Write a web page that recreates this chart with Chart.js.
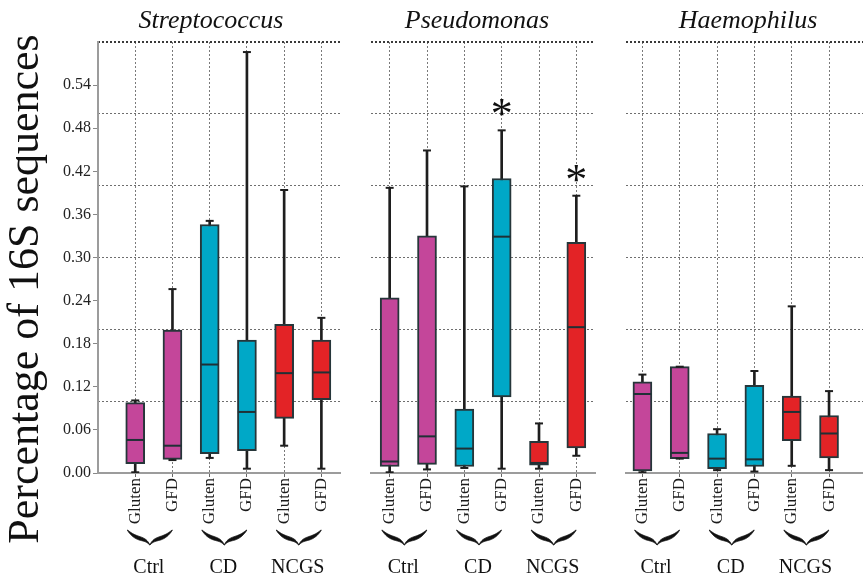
<!DOCTYPE html>
<html>
<head>
<meta charset="utf-8">
<script src="https://cdn.jsdelivr.net/npm/chart.js@4.4.0/dist/chart.umd.min.js"></script>
<style>
  html, body { margin: 0; padding: 0; background: #fff; }
  #wrap { position: relative; width: 863px; height: 579px; overflow: hidden; background: #fff; }
  #wrap canvas { position: absolute; top: 0; }
</style>
</head>
<body>
<div id="wrap">
  <canvas id="c1" width="345" height="579" style="left:0px"></canvas>
  <canvas id="c2" width="260" height="579" style="left:350px"></canvas>
  <canvas id="c3" width="253" height="579" style="left:610px"></canvas>
</div>
<script>
// Diet per box, grouped in pairs by cohort
const categories = ['Gluten', 'GFD', 'Gluten', 'GFD', 'Gluten', 'GFD'];
const groups = ['Ctrl', 'CD', 'NCGS'];
const yTicks = [0, 0.06, 0.12, 0.18, 0.24, 0.30, 0.36, 0.42, 0.48, 0.54];
const yGrid = [0.1, 0.2, 0.3, 0.4, 0.5, 0.6];

// Streptococcus: whisker min, Q1, median, Q3, whisker max
const streptoMin = [0.001, 0.018, 0.021, 0.006, 0.038, 0.006];
const streptoQ1  = [0.013, 0.019, 0.027, 0.031, 0.076, 0.102];
const streptoMed = [0.046, 0.038, 0.151, 0.085, 0.139, 0.140];
const streptoQ3  = [0.098, 0.199, 0.346, 0.185, 0.207, 0.185];
const streptoMax = [0.101, 0.256, 0.351, 0.586, 0.394, 0.216];

// Pseudomonas
const pseudoMin = [0.001, 0.005, 0.007, 0.006, 0.006, 0.024];
const pseudoQ1  = [0.009, 0.012, 0.009, 0.106, 0.011, 0.035];
const pseudoMed = [0.016, 0.051, 0.034, 0.329, 0.014, 0.203];
const pseudoQ3  = [0.244, 0.330, 0.089, 0.410, 0.044, 0.321];
const pseudoMax = [0.397, 0.449, 0.399, 0.477, 0.069, 0.386];
// significance marks (box index 1-based, height)
const pseudoStarAt = [4, 6];
const pseudoStarY  = [0.509, 0.417];

// Haemophilus
const haemoMin = [0.001, 0.020, 0.004, 0.002, 0.010, 0.004];
const haemoQ1  = [0.003, 0.020, 0.006, 0.009, 0.045, 0.021];
const haemoMed = [0.110, 0.028, 0.020, 0.019, 0.085, 0.055];
const haemoQ3  = [0.127, 0.148, 0.055, 0.122, 0.107, 0.080];
const haemoMax = [0.137, 0.148, 0.061, 0.142, 0.232, 0.114];

const MAGENTA = '#c4469a', CYAN = '#00a8c7', RED = '#e32326';
const boxColors = [MAGENTA, MAGENTA, CYAN, CYAN, RED, RED];
const EDGE = '#26363a', WHISKER = '#1e1e1e', MEDIAN = '#1f3035';
const SERIF = '"Liberation Serif", "Times New Roman", serif';

function boxDatasets(mins, q1s, meds, q3s, maxs) {
  const pts = arr => arr.map((v, i) => ({ x: i + 1, y: v }));
  const spans = (lo, hi) => lo.map((v, i) => ({ x: i + 1, y: [v, hi[i]] }));
  return [
    { type: 'bar', data: spans(mins, maxs), barThickness: 2, grouped: false,
      backgroundColor: WHISKER, borderWidth: 0, order: 4 },
    { type: 'bar', data: spans(q1s, q3s), barThickness: 19, grouped: false,
      backgroundColor: boxColors, borderColor: EDGE, borderWidth: 2, borderSkipped: false, order: 3 },
    { type: 'line', data: pts(meds), showLine: false, pointStyle: 'line',
      pointRadius: 9, pointHoverRadius: 9, pointBorderWidth: 2, pointBorderColor: MEDIAN, order: 2 },
    { type: 'line', data: pts(mins).concat(pts(maxs)), showLine: false, pointStyle: 'line',
      pointRadius: 4, pointHoverRadius: 4, pointBorderWidth: 2, pointBorderColor: WHISKER, order: 1 }
  ];
}

// Tapered horizontal curly brace opening upwards
function drawBrace(ctx, cx, halfW, yTop, yFlat, yCusp, thick) {
  const N = 40, upper = [], lower = [];
  for (let k = 0; k <= 2 * N; k++) {
    const t = k / N - 1;
    const s = 1 - Math.abs(t);
    const yc = yTop + (yFlat - yTop) * (1 - Math.pow(1 - s, 3)) + (yCusp - yFlat) * Math.pow(s, 6);
    const th = thick * Math.pow(Math.sin(Math.PI * s), 0.6);
    upper.push([cx + t * halfW, yc - th / 2]);
    lower.push([cx + t * halfW, yc + th / 2]);
  }
  ctx.beginPath();
  ctx.moveTo(upper[0][0], upper[0][1]);
  upper.forEach(p => ctx.lineTo(p[0], p[1]));
  for (let k = lower.length - 1; k >= 0; k--) ctx.lineTo(lower[k][0], lower[k][1]);
  ctx.closePath();
  ctx.fillStyle = '#111';
  ctx.fill();
  ctx.lineWidth = 0.8;
  ctx.strokeStyle = '#111';
  ctx.stroke();
}

const decor = {
  id: 'decor',
  afterDraw(chart, args, opts) {
    const { ctx } = chart;
    const xs = chart.scales.x, ys = chart.scales.y;
    ctx.save();
    ctx.fillStyle = '#111';
    ctx.textAlign = 'center';
    ctx.textBaseline = 'alphabetic';
    ctx.font = 'italic 26px ' + SERIF;
    ctx.fillText(opts.title, opts.titleX, 28);

    (opts.starAt || []).forEach((c, i) => {
      ctx.font = '44px ' + SERIF;
      const m = ctx.measureText('*');
      const px = xs.getPixelForValue(c);
      const py = ys.getPixelForValue(opts.starY[i]);
      const base = py - (m.actualBoundingBoxDescent - m.actualBoundingBoxAscent) / 2;
      ctx.fillText('*', px, base);
    });

    groups.forEach((g, i) => {
      const cx = xs.getPixelForValue(2 * i + 1.5) - 4;
      drawBrace(ctx, cx, 22.5, 530, 539, 545, 3.6);
      ctx.fillStyle = '#111';
      ctx.font = '20px ' + SERIF;
      ctx.fillText(g, cx - 1, 573);
    });

    if (opts.yTitle) {
      ctx.translate(38, 289);
      ctx.rotate(-Math.PI / 2);
      ctx.font = '44px ' + SERIF;
      ctx.fillText(opts.yTitle, 0, 0);
    }
    ctx.restore();
  }
};

function makePanel(id, cfg) {
  const isTop = v => Math.abs(v - 0.6) < 1e-6;
  new Chart(document.getElementById(id), {
    type: 'bar',
    data: { datasets: boxDatasets(...cfg.values) },
    options: {
      responsive: false,
      animation: false,
      events: [],
      layout: { padding: cfg.padding, autoPadding: false },
      plugins: {
        legend: { display: false },
        tooltip: { enabled: false },
        decor: { title: cfg.title, titleX: cfg.titleX, yTitle: cfg.yTitle,
                 starAt: cfg.starAt, starY: cfg.starY }
      },
      scales: {
        x: {
          type: 'linear', position: 'bottom', offset: false, bounds: 'data',
          min: cfg.xMin, max: cfg.xMax,
          afterFit: s => { s.height = 106; s.paddingLeft = 0; s.paddingRight = 0; },
          afterBuildTicks: s => { s.ticks = categories.map((c, i) => ({ value: i + 1 })); },
          ticks: {
            autoSkip: false, minRotation: 90, maxRotation: 90, padding: 1,
            color: '#1a1a1a', font: { family: SERIF, size: 17 },
            callback: v => categories[Math.round(v) - 1] || ''
          },
          grid: { offset: false, color: '#7a7a7a', lineWidth: 1, drawTicks: true,
                  tickLength: 4, tickColor: '#666', tickWidth: 1 },
          border: { display: true, color: '#9c9c9c', width: 2, dash: [2, 2] }
        },
        y: {
          display: cfg.showY, position: 'left', min: 0, max: 0.6, bounds: 'data',
          afterFit: s => { if (cfg.showY) s.width = 98; s.paddingTop = 0; s.paddingBottom = 0; },
          afterBuildTicks: s => { s.ticks = yTicks.map(v => ({ value: v })); },
          ticks: {
            padding: 2, color: '#222', font: { family: SERIF, size: 16 },
            callback: v => Number(v).toFixed(2)
          },
          grid: { drawOnChartArea: false, drawTicks: true, tickLength: 5, tickColor: '#888' },
          border: { display: true, color: '#9c9c9c', width: 2 }
        },
        y2: {
          position: 'left', min: 0, max: 0.6, bounds: 'data',
          afterFit: s => { s.width = 0; },
          afterBuildTicks: s => { s.ticks = yGrid.map(v => ({ value: v })); },
          ticks: { display: false },
          grid: {
            drawTicks: false,
            color: c => isTop(c.tick.value) ? '#3a3a3a' : '#6e6e6e',
            lineWidth: c => isTop(c.tick.value) ? 2 : 1
          },
          border: { display: false, dash: [2, 2] }
        }
      }
    },
    plugins: [decor]
  });
}

makePanel('c1', {
  values: [streptoMin, streptoQ1, streptoMed, streptoQ3, streptoMax],
  title: 'Streptococcus', titleX: 211, yTitle: 'Percentage of 16S sequences',
  showY: true, xMin: 0, xMax: 6.5,
  padding: { left: 0, right: 5, top: 42, bottom: 0 }
});
makePanel('c2', {
  values: [pseudoMin, pseudoQ1, pseudoMed, pseudoQ3, pseudoMax],
  title: 'Pseudomonas', titleX: 127, starAt: pseudoStarAt, starY: pseudoStarY,
  showY: false, xMin: 0.5, xMax: 6.5,
  padding: { left: 21, right: 15, top: 42, bottom: 0 }
});
makePanel('c3', {
  values: [haemoMin, haemoQ1, haemoMed, haemoQ3, haemoMax],
  title: 'Haemophilus', titleX: 138,
  showY: false, xMin: 0.56, xMax: 6.91,
  padding: { left: 16, right: 0, top: 42, bottom: 0 }
});
</script>
</body>
</html>
